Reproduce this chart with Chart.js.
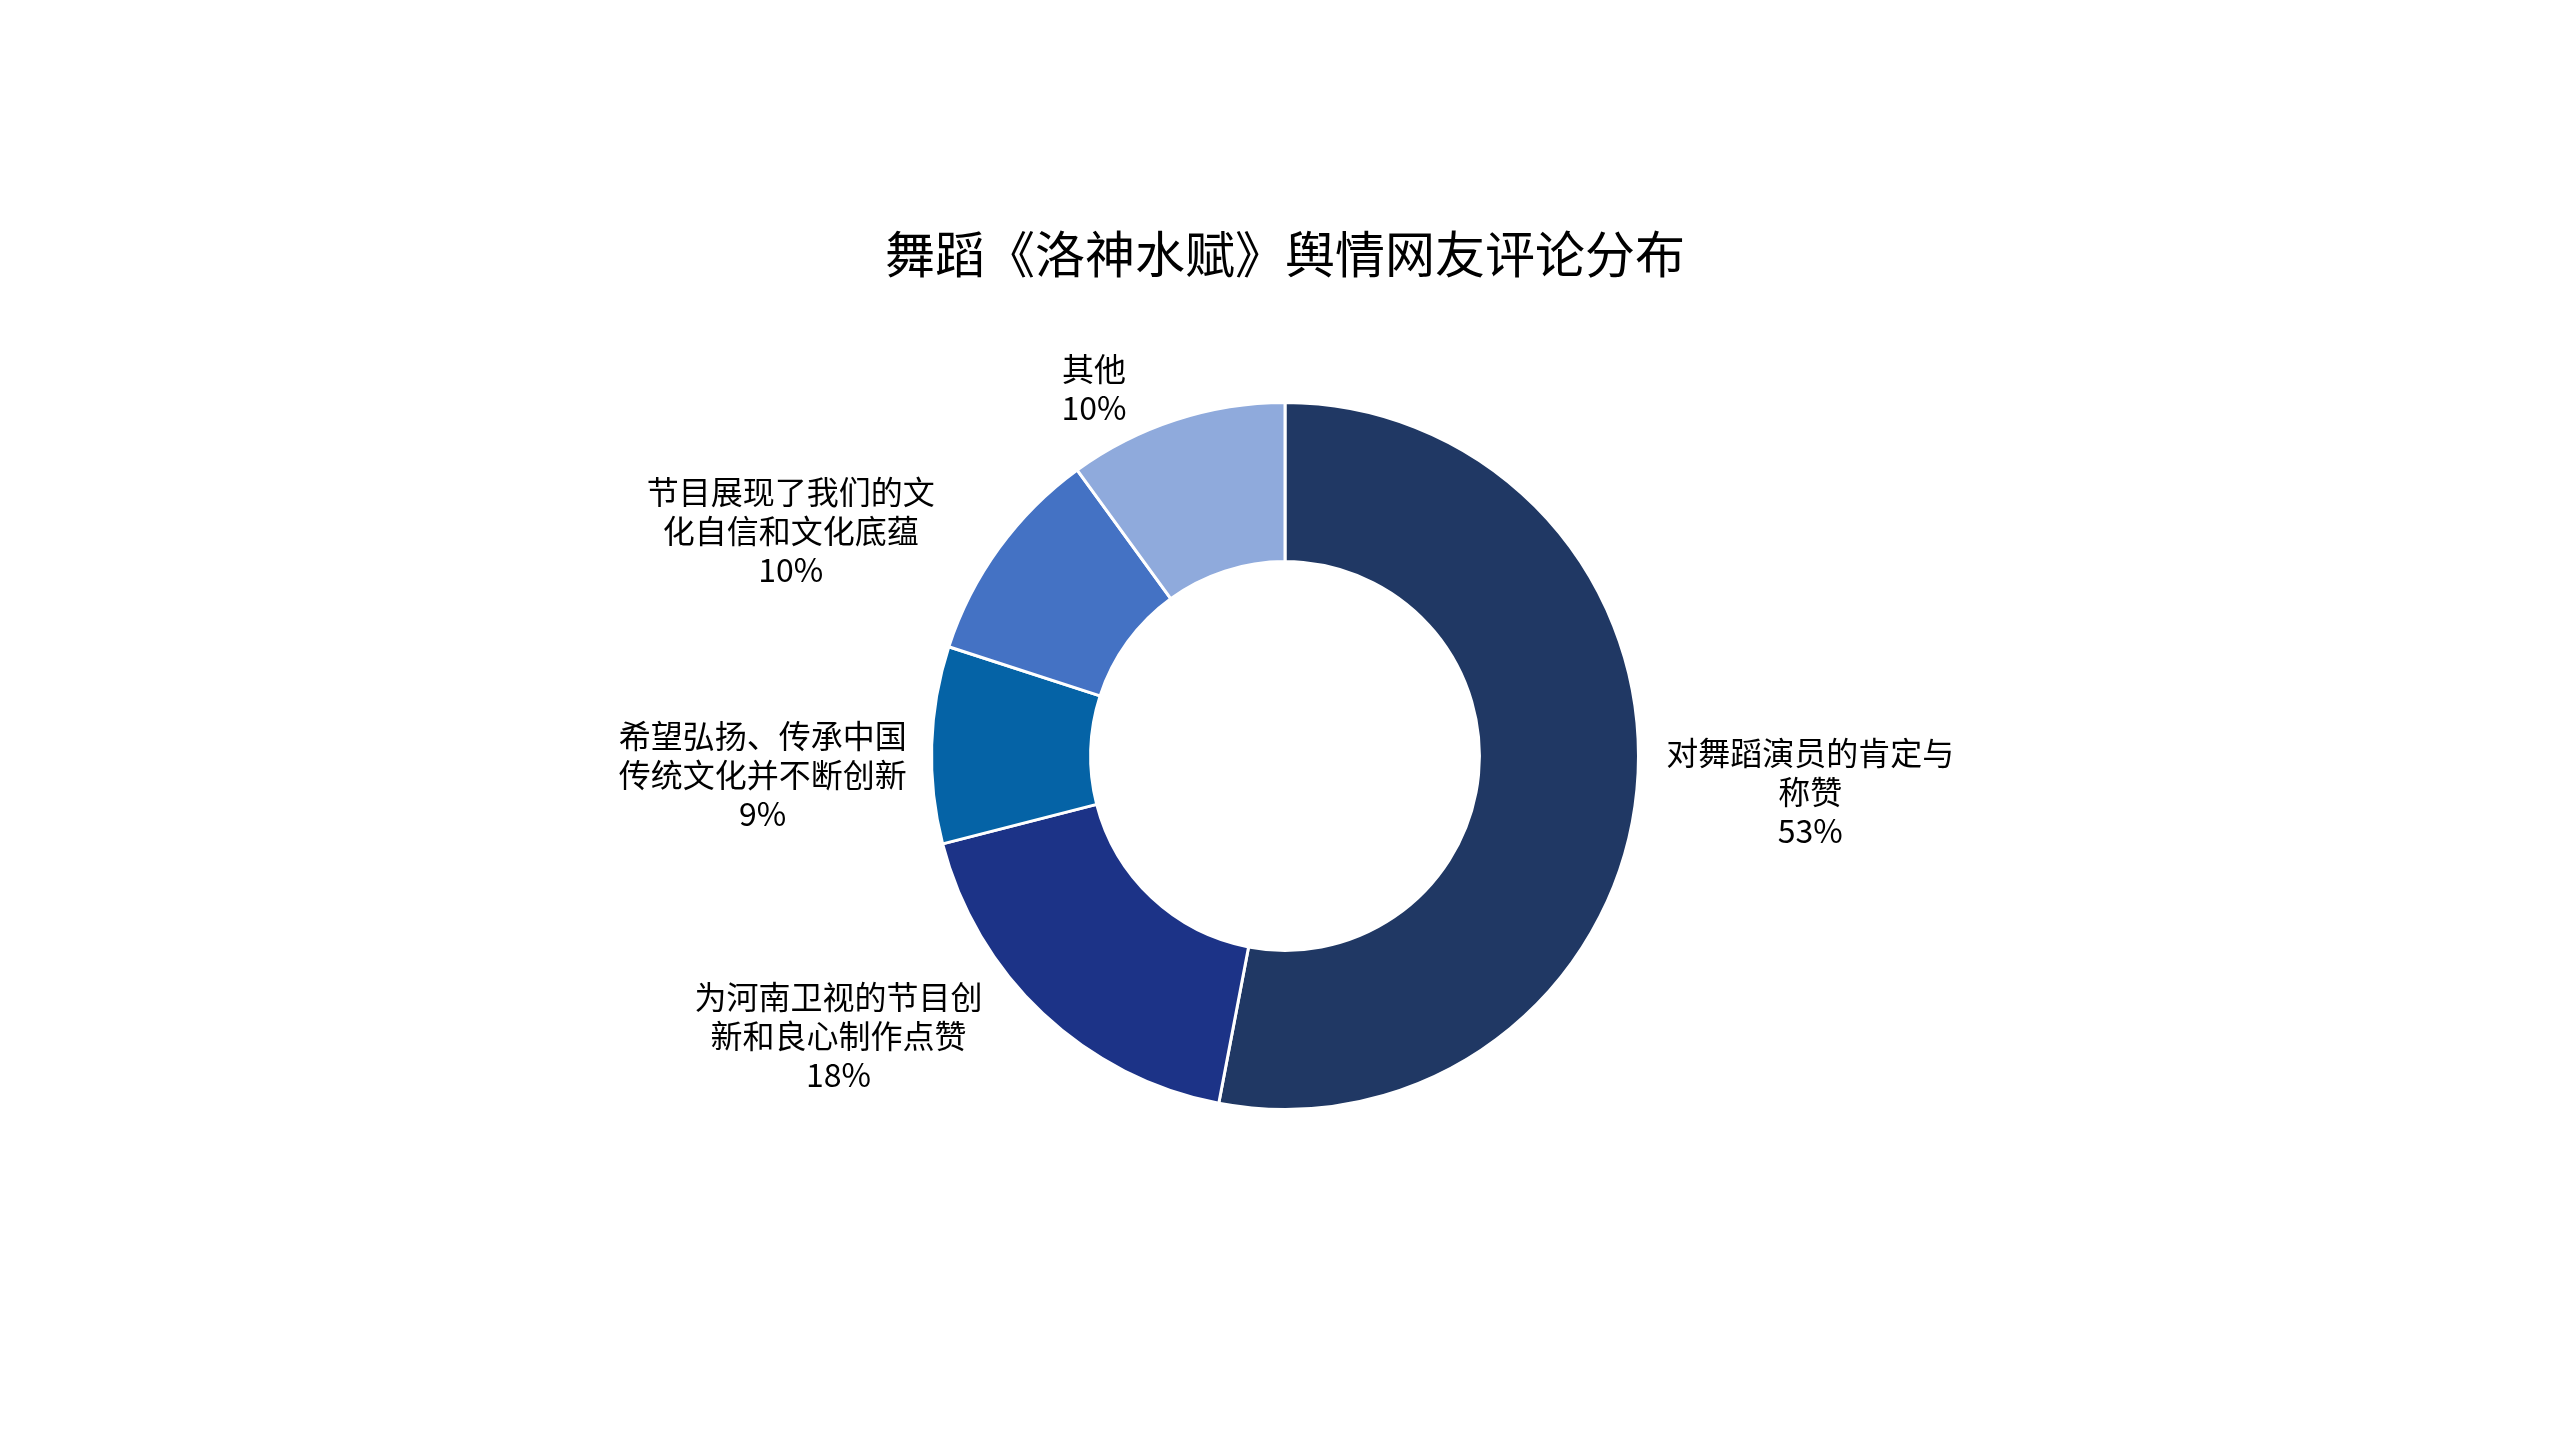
<!DOCTYPE html>
<html>
<head>
<meta charset="utf-8">
<script src="https://cdn.jsdelivr.net/npm/chart.js@4/dist/chart.umd.min.js"></script>
<style>
  html, body { margin: 0; padding: 0; background: #fff; }
  canvas { display: block; }
</style>
</head>
<body>
<canvas id="chartOpinion" width="2560" height="1440"></canvas>
<script>
// categories (split into lines the way the labels are wrapped)
var categories = [
  ["对舞蹈演员的肯定与", "称赞"],
  ["为河南卫视的节目创", "新和良心制作点赞"],
  ["希望弘扬、传承中国", "传统文化并不断创新"],
  ["节目展现了我们的文", "化自信和文化底蕴"],
  ["其他"]
];
// share of comments, %
var shares = [53, 18, 9, 10, 10];
var colors = ["#203864", "#1c3387", "#0563a6", "#4472c4", "#8faadc"];

var FONT = '"Noto Sans CJK SC", "Noto Sans", sans-serif';

// labels outside the ring, placed from each arc's own geometry
var outLabels = {
  id: 'outLabels',
  afterDatasetsDraw: function (chart, args, opts) {
    var ctx = chart.ctx;
    var meta = chart.getDatasetMeta(0);
    var nudge = opts.nudgeY || [];
    ctx.save();
    ctx.font = '32px ' + FONT;
    ctx.fillStyle = '#000';
    ctx.textAlign = 'center';
    ctx.textBaseline = 'middle';
    meta.data.forEach(function (arc, i) {
      var p = arc.getProps(['x', 'y', 'startAngle', 'endAngle', 'outerRadius'], true);
      var mid = (p.startAngle + p.endAngle) / 2;
      var r = p.outerRadius + 30;
      var ax = p.x + Math.cos(mid) * r;
      var ay = p.y + Math.sin(mid) * r + (nudge[i] || 0);
      var lines = categories[i].concat([shares[i] + '%']);
      var w = 0;
      lines.forEach(function (l) { w = Math.max(w, ctx.measureText(l).width); });
      // near the horizontal the box sits right at the anchor, elsewhere it clears the corner
      var s = Math.abs(Math.sin(mid));
      var gap = -5 + 45 * Math.max(0, Math.min(1, (s - 0.05) / 0.45));
      var cx = Math.cos(mid) >= 0 ? ax + gap + w / 2 : ax - gap - w / 2;
      var lh = 39;
      var top = ay - lh * (lines.length - 1) / 2;
      lines.forEach(function (l, k) { ctx.fillText(l, cx, top + k * lh); });
    });
    ctx.restore();
  }
};

var ctx = document.getElementById('chartOpinion');
var chartOpinion = new Chart(ctx, {
  type: 'doughnut',
  data: {
    labels: categories.map(function (c) { return c.join(''); }),
    datasets: [{
      data: shares,
      backgroundColor: colors,
      borderColor: '#ffffff',
      borderWidth: 3
    }]
  },
  options: {
    responsive: false,
    devicePixelRatio: 1,
    animation: false,
    cutout: '55%',
    layout: {
      padding: { top: 0, bottom: 329, left: 14, right: 4 }
    },
    plugins: {
      legend: { display: false },
      tooltip: { enabled: false },
      title: {
        display: true,
        text: '舞蹈《洛神水赋》舆情网友评论分布',
        color: '#000',
        font: { family: FONT, size: 50, weight: 'normal', lineHeight: 1.2 },
        padding: { top: 224, bottom: 117 }
      },
      outLabels: { nudgeY: [0, 0, 31, 0, -3] }
    }
  },
  plugins: [outLabels]
});
</script>
</body>
</html>
